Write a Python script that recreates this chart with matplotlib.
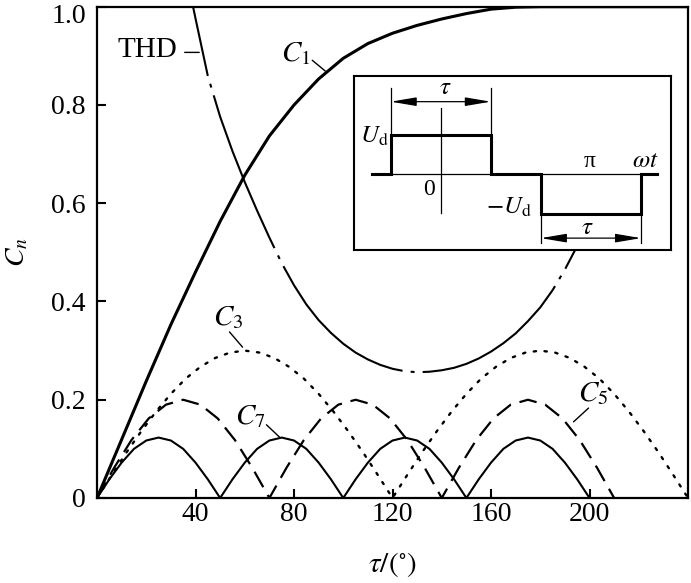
import numpy as np
import matplotlib
matplotlib.use('Agg')
import matplotlib.pyplot as plt
import matplotlib.transforms as mtransforms

plt.rcParams['font.family'] = ['Liberation Serif', 'DejaVu Serif']
plt.rcParams['mathtext.fontset'] = 'stix'

# values (tau in degrees)
tau_c1 = np.arange(0, 241, 10)
c1 = [0, 0.119, 0.238, 0.353, 0.460, 0.563, 0.657, 0.737, 0.800, 0.853,
      0.895, 0.925, 0.946, 0.962, 0.975, 0.986, 0.995, 0.999, 1.0, 1.0,
      1.0, 1.0, 1.0, 1.0, 1.0]

tau_c3 = np.arange(0, 241, 6)
c3 = [0, 0.047, 0.093, 0.136, 0.176, 0.212, 0.243, 0.267, 0.285, 0.296,
      0.300, 0.296, 0.285, 0.267, 0.243, 0.212, 0.176, 0.136, 0.093, 0.047,
      0, 0.047, 0.093, 0.136, 0.176, 0.212, 0.243, 0.267, 0.285, 0.296,
      0.300, 0.296, 0.285, 0.267, 0.243, 0.212, 0.176, 0.136, 0.093, 0.047,
      0]

tau_c5 = np.arange(0, 211, 7)
c5 = [0, 0.062, 0.118, 0.162, 0.190, 0.200, 0.190, 0.162, 0.118, 0.062,
      0, 0.062, 0.118, 0.162, 0.190, 0.200, 0.190, 0.162, 0.118, 0.062,
      0, 0.062, 0.118, 0.162, 0.190, 0.200, 0.190, 0.162, 0.118, 0.062,
      0]

tau_c7 = np.arange(0, 201, 5)
c7 = [0, 0.038, 0.072, 0.100, 0.117, 0.123, 0.117, 0.100, 0.072, 0.038,
      0, 0.038, 0.072, 0.100, 0.117, 0.123, 0.117, 0.100, 0.072, 0.038,
      0, 0.038, 0.072, 0.100, 0.117, 0.123, 0.117, 0.100, 0.072, 0.038,
      0, 0.038, 0.072, 0.100, 0.117, 0.123, 0.117, 0.100, 0.072, 0.038,
      0]

tau_thd = [39, 40, 45, 50, 55, 60, 65, 70, 75, 80, 85, 90, 95, 100, 105,
           110, 115, 120, 125, 130, 135, 140, 145, 150, 155, 160, 165, 170,
           175, 180, 185, 190, 195, 200]
thd = [1.0, 0.976, 0.859, 0.776, 0.706, 0.643, 0.585, 0.530, 0.478, 0.433,
       0.394, 0.362, 0.336, 0.314, 0.296, 0.282, 0.271, 0.263, 0.258, 0.256,
       0.257, 0.260, 0.265, 0.273, 0.284, 0.298, 0.315, 0.335, 0.360, 0.388,
       0.423, 0.465, 0.513, 0.565]

x_ticks = [40, 80, 120, 160, 200]
y_ticks = [0, 0.2, 0.4, 0.6, 0.8, 1.0]
y_labels = ['0', '0.2', '0.4', '0.6', '0.8', '1.0']

fig = plt.figure(figsize=(6.91, 5.83), dpi=100)
ax = fig.add_axes([0.1404, 0.1458, 0.8553, 0.8427])

ax.plot(tau_c1, c1, color='k', lw=2.2)
ax.plot(tau_c3, c3, color='k', lw=1.7, linestyle=(0, (1.0, 3.6)),
        dash_capstyle='round')
ax.plot(tau_c5, c5, color='k', lw=1.6, linestyle=(0, (8, 4)))
ax.plot(tau_c7, c7, color='k', lw=1.5)
ax.plot(tau_thd, thd, color='k', lw=1.5,
        linestyle=(45, (79, 3.9, 1.9, 3.9)))

ax.set_xlim(0, 240)
ax.set_ylim(0, 1.0)
ax.set_xticks(x_ticks)
ax.set_xticklabels([str(t) for t in x_ticks])
ax.set_yticks(y_ticks)
ax.set_yticklabels(y_labels)
ax.tick_params(direction='in', length=6.5, width=1.5, labelsize=20)
ax.tick_params(axis='y', pad=8)
ax.tick_params(axis='x', pad=3)
for s in ax.spines.values():
    s.set_linewidth(1.6)

# nudge the top tick label down so it stays inside the figure
top_lab = ax.get_yticklabels()[-1]
top_lab.set_transform(top_lab.get_transform() +
                      mtransforms.ScaledTranslation(0, -5 / 72, fig.dpi_scale_trans))

ax.set_xlabel(r'$\tau/(^{\circ})$', fontsize=21)
ax.xaxis.set_label_coords(0.5, -0.105)
ax.set_ylabel(r'$C_n$', fontsize=20)
ax.yaxis.set_label_coords(-0.112, 0.5)

# curve labels with leader lines
lead = dict(arrowstyle='-', lw=1, color='k', shrinkA=0, shrinkB=0)
ax.text(20.6, 0.911, 'THD', fontsize=21, ha='center', va='center')
ax.annotate('', xy=(41.5, 0.907), xytext=(35.6, 0.907), arrowprops=lead)
ax.text(80.6, 0.905, r'$C_1$', fontsize=21, ha='center', va='center')
ax.annotate('', xy=(92.7, 0.869), xytext=(87.4, 0.891), arrowprops=lead)
ax.text(53.4, 0.368, r'$C_3$', fontsize=21, ha='center', va='center')
ax.annotate('', xy=(59.1, 0.307), xytext=(53.8, 0.338), arrowprops=lead)
ax.text(62.3, 0.165, r'$C_7$', fontsize=21, ha='center', va='center')
ax.annotate('', xy=(74.1, 0.124), xytext=(68.8, 0.149), arrowprops=lead)
ax.text(201.6, 0.212, r'$C_5$', fontsize=21, ha='center', va='center')
ax.annotate('', xy=(193.5, 0.155), xytext=(199.6, 0.183), arrowprops=lead)

# inset: waveform sketch
ins = fig.add_axes([0.5123, 0.5712, 0.4583, 0.2985], zorder=3)
ins.set_facecolor('white')
ins.set_xlim(-104, 275.6)
ins.set_ylim(-1.92, 2.48)
ins.set_xticks([])
ins.set_yticks([])
for s in ins.spines.values():
    s.set_linewidth(1.5)

ins.plot([-82, 259], [0, 0], color='k', lw=0.9)
ins.plot([0, 0], [-0.99, 1.67], color='k', lw=0.9)
ins.plot([-82, -60, -60, 60, 60, 120, 120, 240, 240, 259],
         [0, 0, 1, 1, 0, 0, -1, -1, 0, 0], color='k', lw=2.2,
         solid_joinstyle='miter')
for xe in (-60, 60):
    ins.plot([xe, xe], [1, 2.18], color='k', lw=0.9)
for xe in (120, 240):
    ins.plot([xe, xe], [-1, -1.75], color='k', lw=0.9)
arr = dict(arrowstyle='<|-|>,head_length=1.3,head_width=0.22', color='k',
           lw=0.9, shrinkA=0, shrinkB=0, mutation_scale=12)
ins.annotate('', xy=(60, 1.83), xytext=(-60, 1.83), arrowprops=arr)
ins.annotate('', xy=(240, -1.62), xytext=(120, -1.62), arrowprops=arr)

ins.text(6, 2.18, r'$\tau$', fontsize=18, ha='center', va='center')
ins.text(176, -1.36, r'$\tau$', fontsize=18, ha='center', va='center')
ins.text(-63, 0.95, r'$U_{\rm d}$', fontsize=18, ha='right', va='center')
ins.text(109, -0.83, r'$-U_{\rm d}$', fontsize=18, ha='right', va='center')
ins.text(-14.4, -0.4, '0', fontsize=17, ha='center', va='center')
ins.text(178.8, 0.33, 'π', fontsize=17, ha='center', va='center')
ins.text(244.8, 0.33, r'$\omega t$', fontsize=18, ha='center', va='center')

fig.savefig('out.png', dpi=100)
